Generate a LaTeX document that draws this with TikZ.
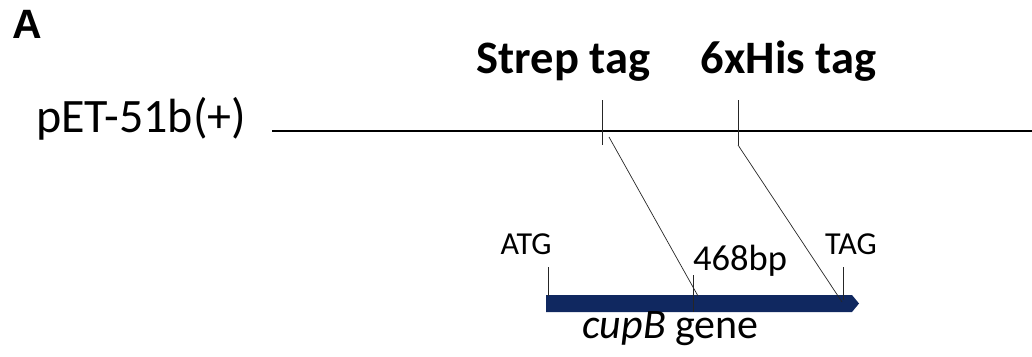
\documentclass[tikz,border=0pt]{standalone}
\usepackage{fontspec}
\setmainfont{Carlito}
\newfontfamily\panelfont{Liberation Sans}
\definecolor{genebar}{RGB}{16,40,96}
\tikzset{
  thin line/.style={draw=black!85, line width=0.7pt},
  vector line/.style={draw=black, line width=2.2pt},
  lbl/.style={inner sep=0pt, anchor=base},
}
\begin{document}
\begin{tikzpicture}[x=1pt, y=-1pt]
\useasboundingbox (0,0) rectangle (1032,356);

% panel letter
\node[lbl, anchor=base west] (panel) at (12,38) {\panelfont\bfseries\fontsize{41}{41}\selectfont A};

% vector backbone
\node[lbl, anchor=base west] (vec) at (36,132) {\fontsize{48}{48}\selectfont pET-51b(+)};
\coordinate (vs) at (272,131);
\coordinate (ve) at (1032,131);
\draw[vector line] (vs) -- (ve);

% tag labels
\node[lbl] (strep) at (563.5,73) {\fontsize{46.5}{46.5}\selectfont\bfseries Strep tag};
\node[lbl] (his) at (788.5,73) {\fontsize{46.5}{46.5}\selectfont\bfseries 6xHis tag};

% tag sites on the vector
\coordinate (st1) at (602,100);
\coordinate (st2) at (602,145);
\coordinate (sd) at (609,137);
\coordinate (ht1) at (738,100);
\coordinate (ht2) at (738,145);
\draw[thin line] (st1) -- (st2);
\draw[thin line] (ht1) -- (ht2);

% gene bar
\coordinate (gs) at (546,295);
\fill[genebar] (546,295) -- (852,295) -- (859,303.5) -- (852,312) -- (546,312) -- cycle;

% mapping lines to the gene
\coordinate (sg) at (698,296);
\coordinate (hg) at (842,302);
\draw[thin line] (sd) -- (sg);
\draw[thin line] (ht2) -- (hg);

% gene ticks
\coordinate (atg1) at (548,267);
\coordinate (atg2) at (548,296);
\coordinate (mid1) at (693,275);
\coordinate (mid2) at (693,312);
\coordinate (tag1) at (843,267);
\coordinate (tag2) at (843,300);
\draw[thin line] (atg1) -- (atg2);
\draw[thin line] (mid1) -- (mid2);
\draw[thin line] (tag1) -- (tag2);

% gene labels
\node[lbl] (atg) at (526,254) {\fontsize{32}{32}\selectfont ATG};
\node[lbl] (tag) at (851,254) {\fontsize{32}{32}\selectfont TAG};
\node[lbl, anchor=base west] (len) at (693,270) {\fontsize{36.5}{36.5}\selectfont 468bp};
\node[lbl] (gene) at (670.5,338) {\fontsize{42}{42}\selectfont\textit{cupB} gene};
\end{tikzpicture}
\end{document}
